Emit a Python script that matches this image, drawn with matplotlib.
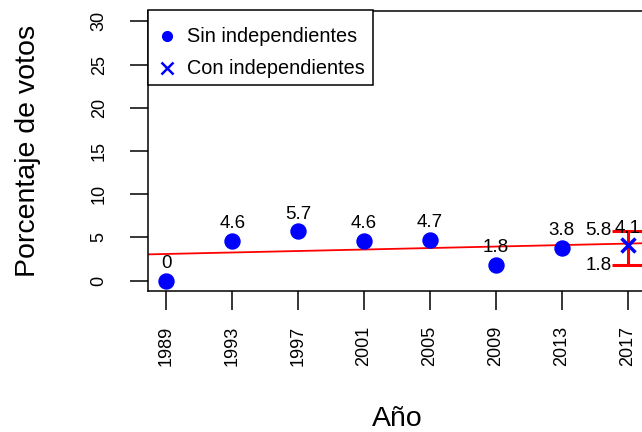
import numpy as np
import matplotlib
matplotlib.use('Agg')
import matplotlib.pyplot as plt
from matplotlib.patches import Rectangle

plt.rcParams['font.family'] = ['Liberation Sans', 'DejaVu Sans']

# data
years = [1989, 1993, 1997, 2001, 2005, 2009, 2013]
votes = [0, 4.6, 5.7, 4.6, 4.7, 1.8, 3.8]
ind_year = 2017
ind_vote = 4.1
ind_low = 1.8
ind_high = 5.8
tick_years = [1989, 1993, 1997, 2001, 2005, 2009, 2013, 2017]
y_ticks = [0, 5, 10, 15, 20, 25, 30]
legend_labels = ['Sin independientes', 'Con independientes']

BLUE = '#0000ff'
RED = '#ff0000'
W, H = 642, 432


def px(x, y):
    # pixel position (from top left) -> figure fraction
    return x / W, 1 - y / H


fig = plt.figure(figsize=(W / 100, H / 100), dpi=100)
ax = fig.add_axes([148 / W, (H - 291) / H, (646 - 148) / W, (291 - 11) / H])

ax.set_xlim(1987.88, 2018.12)
ax.set_ylim(-1.2, 31.2)

# regression line over the observed years
slope, intercept = np.polyfit(years, votes, 1)
xs = np.array(ax.get_xlim())
ax.plot(xs, intercept + slope * xs, color=RED, lw=1.3, zorder=2)

ax.plot(years, votes, 'o', color=BLUE, ms=10.8, zorder=3)
ax.errorbar([ind_year], [ind_vote],
            yerr=[[ind_vote - ind_low], [ind_high - ind_vote]],
            fmt='none', ecolor=RED, elinewidth=2.2, capsize=11.5, capthick=2.2, zorder=3)
ax.plot([ind_year], [ind_vote], 'x', color=BLUE, ms=10, mew=2.5, zorder=4)

for x, v in zip(years + [ind_year], votes + [ind_vote]):
    ax.annotate(f'{v:g}', (x, v), xytext=(0, 12.3), textcoords='offset points',
                ha='center', va='center', fontsize=13.5)
for v in (ind_low, ind_high):
    ax.annotate(f'{v:g}', (ind_year, v), xytext=(-11.5, 0), textcoords='offset points',
                ha='right', va='center', fontsize=13.5)

ax.set_xticks(tick_years)
ax.set_xticklabels([str(y) for y in tick_years], rotation=90, fontsize=13)
ax.set_yticks(y_ticks)
ax.set_yticklabels([str(t) for t in y_ticks], rotation=90, va='center', fontsize=13)
ax.tick_params(axis='x', length=13.5, width=1.1, pad=11.5)
ax.tick_params(axis='y', length=13, width=1.1, pad=16)
for s in ax.spines.values():
    s.set_linewidth(1.1)

# legend box drawn by hand, like R's legend()
x0, y0 = px(148, 85)
x1, y1 = px(373, 10)
fig.patches.append(Rectangle((x0, y0), x1 - x0, y1 - y0, transform=fig.transFigure,
                             facecolor='white', edgecolor='black', lw=1.1, zorder=5))
for (row_y, marker, ms, mew), label in zip([(36, 'o', 7, 1), (68, 'x', 8, 1.8)], legend_labels):
    mx, my = px(167, row_y)
    fig.add_artist(plt.Line2D([mx], [my], marker=marker, ls='none', color=BLUE, ms=ms,
                              mew=mew, transform=fig.transFigure, zorder=6))
    tx, ty = px(187, row_y)
    fig.text(tx, ty, label, ha='left', va='center', fontsize=14.3, zorder=6)

fig.text(*px(397, 419), 'Año', ha='center', va='center', fontsize=20.5)
fig.text(*px(28, 151), 'Porcentaje de votos', ha='center', va='center',
         rotation=90, fontsize=20.5)

fig.savefig('out.png', dpi=100)
